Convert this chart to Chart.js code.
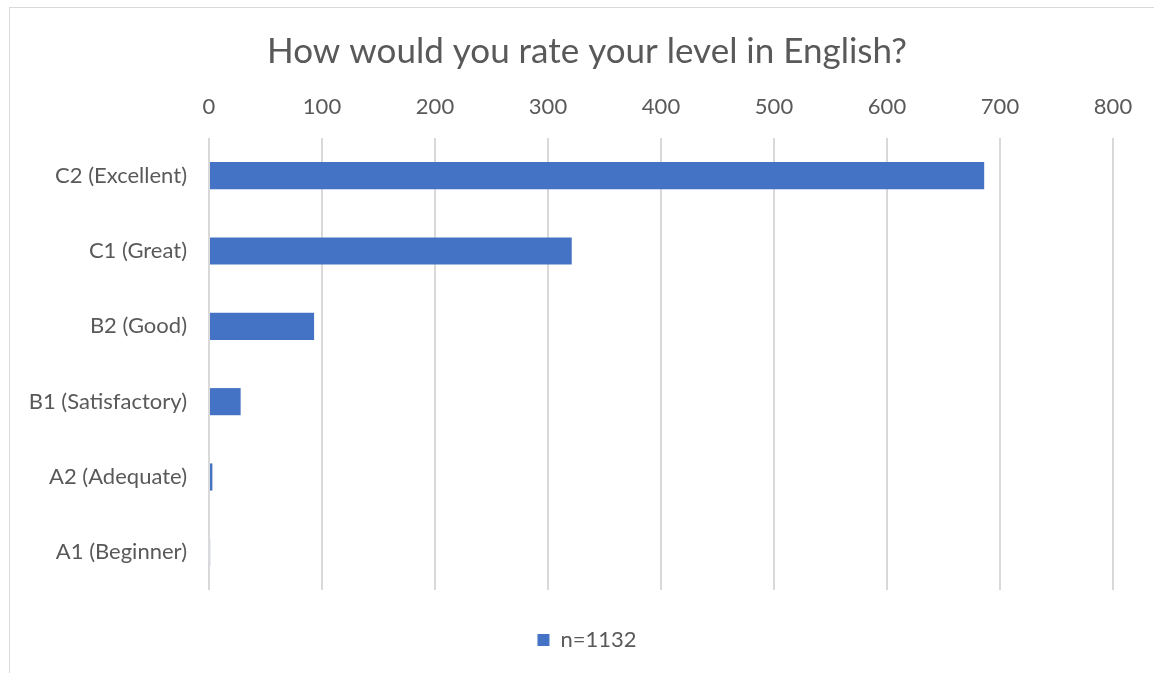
<!DOCTYPE html>
<html>
<head>
<meta charset="utf-8">
<script src="https://cdn.jsdelivr.net/npm/chart.js@4/dist/chart.umd.min.js"></script>
<style>
  body { margin: 0; background: #fff; }
  canvas { display: block; }
</style>
</head>
<body>
<canvas id="levelChart" width="1154" height="673"></canvas>
<script>
var categories = ["C2 (Excellent)", "C1 (Great)", "B2 (Good)", "B1 (Satisfactory)", "A2 (Adequate)", "A1 (Beginner)"];
var counts = [686, 321, 93, 28, 3, 1];
var seriesName = "n=1132";
var xTicks = [0, 100, 200, 300, 400, 500, 600, 700, 800];

var textColor = "#595959";
var gridColor = "#d9d9d9";

// frame around the chart like the office export
var framePlugin = {
  id: "frame",
  beforeDraw: function (chart) {
    var c = chart.ctx;
    c.save();
    c.fillStyle = "#fff";
    c.fillRect(0, 0, chart.width, chart.height);
    c.strokeStyle = gridColor;
    c.lineWidth = 1;
    c.strokeRect(9.5, 7.5, 1200, 700);
    c.restore();
  }
};

var ctx = document.getElementById("levelChart");
var myBarChart = new Chart(ctx, {
  type: "bar",
  data: {
    labels: categories,
    datasets: [
      {
        label: seriesName,
        data: counts,
        backgroundColor: "#4472C4",
        borderWidth: 0,
        barPercentage: 0.36,
        categoryPercentage: 1
      }
    ]
  },
  options: {
    indexAxis: "y",
    responsive: false,
    animation: false,
    layout: { padding: { left: 20, right: 0, top: 0, bottom: 12 } },
    plugins: {
      title: {
        display: true,
        text: "How would you rate your level in English?",
        color: textColor,
        font: { family: "Lato", size: 35, weight: "normal" },
        padding: { top: 31, bottom: 0 }
      },
      legend: {
        position: "bottom",
        labels: {
          color: textColor,
          font: { family: "Lato", size: 22 },
          boxWidth: 12,
          boxHeight: 12,
          padding: 39
        }
      },
      tooltip: { enabled: false }
    },
    scales: {
      x: {
        position: "top",
        min: 0,
        max: 800,
        afterBuildTicks: function (s) {
          s.ticks = xTicks.map(function (v) { return { value: v }; });
        },
        afterFit: function (s) { s.height = 65; },
        grid: { color: gridColor, lineWidth: 2, drawTicks: false },
        border: { display: false },
        ticks: {
          color: textColor,
          font: { family: "Lato", size: 22 },
          padding: 18
        }
      },
      y: {
        afterFit: function (s) { s.width = 189; },
        grid: { display: false, drawTicks: false },
        border: { display: false },
        ticks: {
          color: textColor,
          font: { family: "Lato", size: 22 },
          padding: 22
        }
      },
      // empty right-hand strip so the plot stops before the frame edge
      yRight: {
        type: "category",
        position: "right",
        afterFit: function (s) { s.width = 41; },
        grid: { display: false, drawTicks: false },
        border: { display: false },
        ticks: { display: false }
      }
    }
  },
  plugins: [framePlugin]
});
</script>
</body>
</html>
